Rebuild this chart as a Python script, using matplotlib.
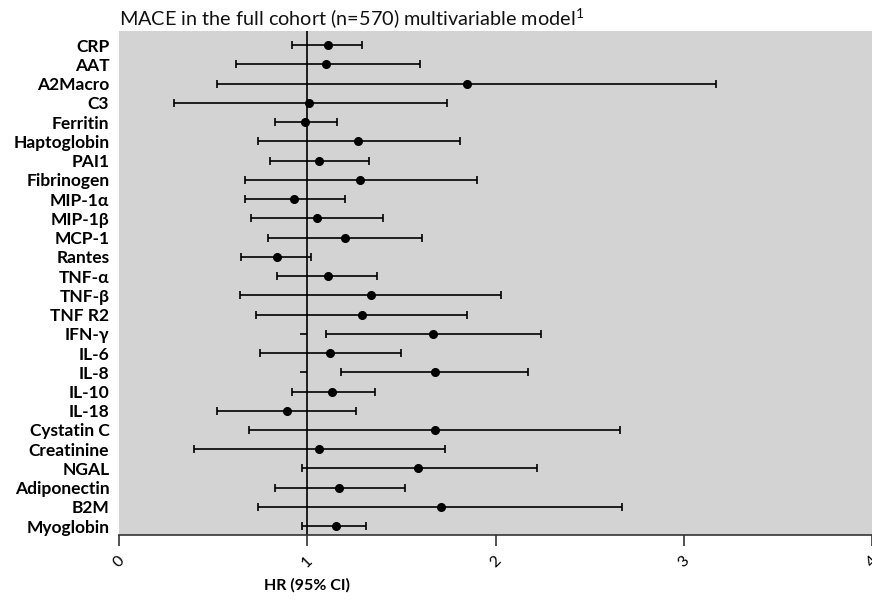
import matplotlib
matplotlib.use('Agg')
import matplotlib.pyplot as plt

plt.rcParams['font.family'] = ['Lato', 'DejaVu Sans']
plt.rcParams['mathtext.fontset'] = 'custom'
plt.rcParams['mathtext.rm'] = 'Lato'
plt.rcParams['mathtext.bf'] = 'Lato:bold'

markers = ['CRP', 'AAT', 'A2Macro', 'C3', 'Ferritin', 'Haptoglobin', 'PAI1',
           'Fibrinogen', 'MIP-1α', 'MIP-1β', 'MCP-1',
           'Rantes', 'TNF-α', 'TNF-β', 'TNF R2',
           'IFN-γ', 'IL-6', 'IL-8', 'IL-10', 'IL-18', 'Cystatin C',
           'Creatinine', 'NGAL', 'Adiponectin', 'B2M', 'Myoglobin']
hr = [1.11, 1.10, 1.85, 1.01, 0.99, 1.27, 1.06, 1.28, 0.93, 1.05, 1.20, 0.84, 1.11,
      1.34, 1.29, 1.67, 1.12, 1.68, 1.13, 0.89, 1.68, 1.06, 1.59, 1.17, 1.71, 1.15]
ci_low = [0.92, 0.62, 0.52, 0.29, 0.83, 0.74, 0.80, 0.67, 0.67, 0.70, 0.79, 0.65, 0.84,
          0.64, 0.73, 1.10, 0.75, 1.18, 0.92, 0.52, 0.69, 0.40, 0.97, 0.83, 0.74, 0.97]
ci_high = [1.29, 1.60, 3.17, 1.74, 1.16, 1.81, 1.33, 1.90, 1.20, 1.40, 1.61, 1.02, 1.37,
           2.03, 1.85, 2.24, 1.50, 2.17, 1.36, 1.26, 2.66, 1.73, 2.22, 1.52, 2.67, 1.31]
# short leftover segments near the reference line (IFN-g, IL-8)
stub_rows = [15, 17]
stub_from = [0.96, 0.96]
stub_to = [1.0, 1.0]

fig = plt.figure(figsize=(8.72, 6), dpi=100)
ax = fig.add_axes([0.1365, 0.108, 0.8635, 0.84])
ax.set_facecolor('#d3d3d3')

ypos = list(range(len(markers)))
xerr = [[h - l for h, l in zip(hr, ci_low)], [u - h for h, u in zip(hr, ci_high)]]
ax.axvline(1, color='black', lw=1.2, zorder=1)
ax.errorbar(hr, ypos, xerr=xerr, fmt='o', color='black', ms=5.5, lw=1.2,
            capsize=3, capthick=1.2, zorder=3)
ax.hlines(stub_rows, stub_from, stub_to, color='black', lw=1.2, zorder=2)

ax.set_xlim(0, 4)
ax.set_ylim(25.47, -0.73)
ax.set_yticks(ypos)
ax.set_yticklabels(markers, fontsize=12.5, fontweight='bold', family=['Lato', 'DejaVu Sans'])
ax.tick_params(axis='y', length=0, pad=7)
ax.set_xticks([0, 1, 2, 3, 4])
ax.set_xticklabels(['0', '1', '2', '3', '4'], rotation=45, fontsize=11.5)
ax.tick_params(axis='x', length=8, width=1.2, color='#333333', pad=5)
for side in ['top', 'right', 'left']:
    ax.spines[side].set_visible(False)
ax.spines['bottom'].set_color('#333333')
ax.spines['bottom'].set_linewidth(1.2)

ax.set_xlabel('HR (95% CI)', fontsize=11.5, fontweight='bold')
ax.xaxis.set_label_coords(0.25, -0.085)
ax.set_title(r'MACE in the full cohort (n=570) multivariable model$^1$',
             loc='left', fontsize=14.3, pad=3, color='#111111')

plt.savefig('out.png')
plt.close()
